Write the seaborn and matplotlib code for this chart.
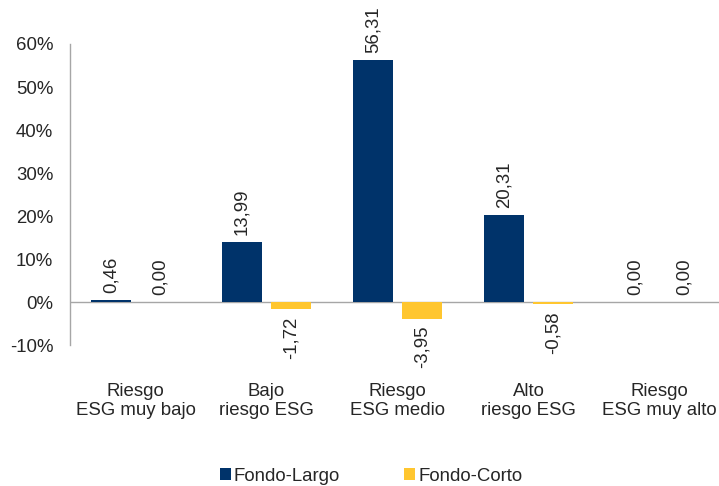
import pandas as pd
import matplotlib
matplotlib.use("Agg")
import matplotlib.pyplot as plt
import seaborn as sns
from matplotlib.ticker import FuncFormatter

# Data
categories = [
    "Riesgo\nESG muy bajo",
    "Bajo\nriesgo ESG",
    "Riesgo\nESG medio",
    "Alto\nriesgo ESG",
    "Riesgo\nESG muy alto",
]
fondo_largo = [0.46, 13.99, 56.31, 20.31, 0.00]
fondo_corto = [0.00, -1.72, -3.95, -0.58, 0.00]
series_names = ["Fondo-Largo", "Fondo-Corto"]
y_ticks = [-10, 0, 10, 20, 30, 40, 50, 60]

colors = {"Fondo-Largo": "#00336A", "Fondo-Corto": "#FFC62F"}

# Long format for seaborn
df = pd.DataFrame({
    "categoria": categories * 2,
    "serie": [series_names[0]] * 5 + [series_names[1]] * 5,
    "valor": fondo_largo + fondo_corto,
})

sns.set_style("white")
plt.rcParams["font.family"] = ["Liberation Sans", "DejaVu Sans"]
fs = 13.4

fig = plt.figure(figsize=(7.19, 4.86), dpi=100)
ax = fig.add_axes([70 / 719, 1 - 345 / 486, 655 / 719, 301 / 486])

sns.barplot(
    data=df,
    x="categoria",
    y="valor",
    hue="serie",
    order=categories,
    hue_order=series_names,
    palette=colors,
    width=0.75,
    gap=0.17,
    saturation=1,
    linewidth=0,
    legend=True,
    ax=ax,
)

# Rotated data labels with comma decimals
for cont in ax.containers:
    ax.bar_label(
        cont,
        labels=[f"{v:.2f}".replace(".", ",") for v in cont.datavalues],
        rotation=90,
        padding=5,
        fontsize=fs,
    )

ax.set_ylim(-10, 60)
ax.set_xlim(-0.5, 4.5)
ax.set_yticks(y_ticks)
ax.yaxis.set_major_formatter(FuncFormatter(lambda v, p: f"{v:.0f}%"))
ax.tick_params(axis="y", length=0, pad=12, labelsize=fs)
ax.tick_params(axis="x", length=0, pad=27, labelsize=fs)
for lbl in ax.get_xticklabels():
    lbl.set_linespacing(1.2)
ax.set_xlabel("")
ax.set_ylabel("")

# Axis lines: gray left spine and zero line only
for side in ["top", "right", "bottom"]:
    ax.spines[side].set_visible(False)
ax.spines["left"].set_color("#A6A6A6")
ax.spines["left"].set_linewidth(1)
ax.axhline(0, color="#A6A6A6", linewidth=1, zorder=0)

# Legend at the bottom
ax.legend(
    loc="center",
    bbox_to_anchor=(371 / 719, 1 - 476 / 486),
    bbox_transform=fig.transFigure,
    ncol=2,
    frameon=False,
    fontsize=fs,
    handlelength=0.6,
    handleheight=0.6,
    handletextpad=0.15,
    columnspacing=3.45,
)

# Title cut off at the top of the reference image
fig.text(0.0, 1.013, "emisor:", fontsize=17, fontweight="bold",
         color="#1F4E8C", va="center", ha="left")

fig.savefig("out.png", dpi=100)
